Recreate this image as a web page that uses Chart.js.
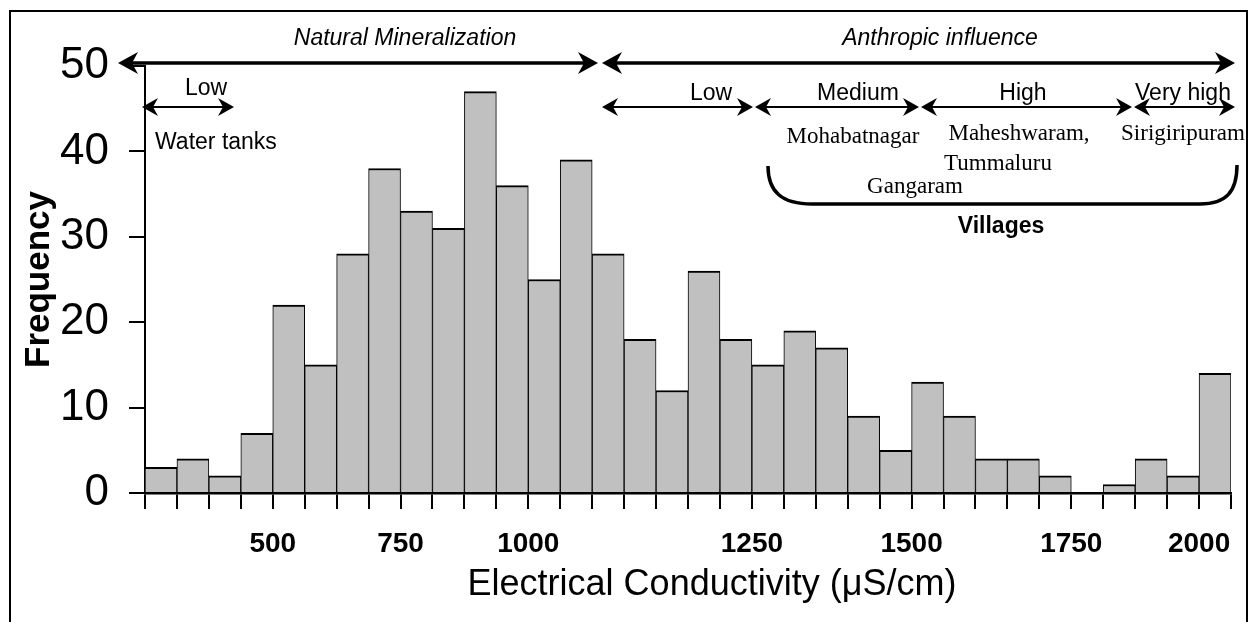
<!DOCTYPE html>
<html>
<head>
<meta charset="utf-8">
<script src="https://cdn.jsdelivr.net/npm/chart.js@4.4.1/dist/chart.umd.min.js"></script>
<style>
  html, body { margin: 0; padding: 0; background: #fff; }
  canvas { display: block; }
</style>
</head>
<body>
<canvas id="c" width="1249" height="622"></canvas>
<script>
// ---- data ----
const frequency = [3, 4, 2, 7, 22, 15, 28, 38, 33, 31, 47, 36, 25, 39, 28, 18, 12,
                   26, 18, 15, 19, 17, 9, 5, 13, 9, 4, 4, 2, 0, 1, 4, 2, 14];
// labels placed at bin edges (35 edges for 34 bins)
const edgeLabels = ['', '', '', '', '500', '', '', '', '750', '', '', '', '1000',
                    '', '', '', '', '', '', '1250', '', '', '', '', '1500',
                    '', '', '', '', '1750', '', '', '', '2000', ''];
const yTicks = [0, 10, 20, 30, 40, 50];
const xTitle = 'Electrical Conductivity (\u03bcS/cm)';
const yTitle = 'Frequency';

const SANS = '"Liberation Sans", Arial, sans-serif';
const SERIF = '"Liberation Serif", "Times New Roman", serif';

function arrowHead(ctx, tipX, y, dir, len, half, notch) {
  ctx.beginPath();
  ctx.moveTo(tipX, y);
  ctx.lineTo(tipX - dir * len, y - half);
  ctx.lineTo(tipX - dir * (len - notch), y);
  ctx.lineTo(tipX - dir * len, y + half);
  ctx.closePath();
  ctx.fill();
}
function doubleArrow(ctx, x1, x2, y, lw, len, half, notch) {
  ctx.lineWidth = lw;
  ctx.beginPath();
  ctx.moveTo(x1 + len - notch, y);
  ctx.lineTo(x2 - len + notch, y);
  ctx.stroke();
  arrowHead(ctx, x1, y, -1, len, half, notch);
  arrowHead(ctx, x2, y, 1, len, half, notch);
}
function txt(ctx, s, x, y, font, align) {
  ctx.font = font;
  ctx.textAlign = align || 'center';
  ctx.textBaseline = 'alphabetic';
  ctx.fillText(s, x, y);
}

const annotations = {
  id: 'annotations',
  afterDraw(chart) {
    const ctx = chart.ctx;
    ctx.save();
    ctx.strokeStyle = '#000';
    ctx.fillStyle = '#000';
    // outer frame
    ctx.lineWidth = 2;
    ctx.strokeRect(10, 11, 1237, 700);

    // x-axis title
    txt(ctx, xTitle, 712, 595, '36px ' + SANS);

    // top-level arrows
    doubleArrow(ctx, 118, 598, 63, 3.5, 20, 11, 6);
    doubleArrow(ctx, 602, 1235, 63, 3.5, 20, 11, 6);
    txt(ctx, 'Natural Mineralization', 405, 45, 'italic 23px ' + SANS);
    txt(ctx, 'Anthropic influence', 940, 45, 'italic 23px ' + SANS);

    // second-level arrows
    doubleArrow(ctx, 142, 234, 107, 2, 16, 9, 5);
    doubleArrow(ctx, 602, 753, 107, 2, 16, 9, 5);
    doubleArrow(ctx, 755, 919, 107, 2, 16, 9, 5);
    doubleArrow(ctx, 921, 1132, 107, 2, 16, 9, 5);
    doubleArrow(ctx, 1134, 1235, 107, 2, 16, 9, 5);

    const f23 = '23px ' + SANS;
    txt(ctx, 'Low', 206, 95, f23);
    txt(ctx, 'Water tanks', 155, 149, f23, 'left');
    txt(ctx, 'Low', 711, 100, f23);
    txt(ctx, 'Medium', 858, 100, f23);
    txt(ctx, 'High', 1023, 100, f23);
    txt(ctx, 'Very high', 1183, 100, f23);

    const fs = '23px ' + SERIF;
    txt(ctx, 'Mohabatnagar', 853, 143, fs);
    txt(ctx, 'Maheshwaram,', 1019, 140, fs);
    txt(ctx, 'Tummaluru', 998, 170, fs);
    txt(ctx, 'Gangaram', 915, 193, fs);
    txt(ctx, 'Sirigiripuram', 1183, 140, fs);

    // bracket
    ctx.lineWidth = 3.5;
    ctx.beginPath();
    ctx.moveTo(768, 166);
    ctx.bezierCurveTo(768, 192, 782, 204, 812, 204);
    ctx.lineTo(1200, 204);
    ctx.bezierCurveTo(1226, 204, 1237, 192, 1237, 165);
    ctx.stroke();
    txt(ctx, 'Villages', 1001, 233, 'bold 23px ' + SANS);

    ctx.restore();
  }
};

new Chart(document.getElementById('c'), {
  type: 'bar',
  data: {
    datasets: [{
      data: frequency.map((v, i) => ({ x: i + 0.5, y: v })),
      backgroundColor: '#c0c0c0',
      borderColor: '#000',
      borderWidth: { top: 2, left: 1, right: 1, bottom: 0 },
      borderSkipped: 'start',
      barPercentage: 1,
      categoryPercentage: 1
    }]
  },
  options: {
    responsive: false,
    animation: false,
    devicePixelRatio: 1,
    layout: { padding: { left: 0, right: 16, top: 66, bottom: 0 } },
    plugins: { legend: { display: false }, tooltip: { enabled: false } },
    scales: {
      x: {
        type: 'linear',
        min: 0,
        max: edgeLabels.length - 1,
        offset: false,
        afterBuildTicks: s => { s.ticks = edgeLabels.map((_, i) => ({ value: i })); },
        afterFit: s => { s.height = 129; },
        grid: { offset: false, drawOnChartArea: false, drawTicks: true, tickLength: 16, color: '#000', lineWidth: 2 },
        border: { display: true, color: '#000', width: 2.5 },
        ticks: {
          autoSkip: false, maxRotation: 0, minRotation: 0, padding: 18, color: '#000',
          font: { family: SANS, size: 28, weight: 'bold' },
          callback: v => edgeLabels[v] ?? ''
        },
        title: { display: false }
      },
      y: {
        min: 0,
        max: 50,
        afterBuildTicks: s => { s.ticks = yTicks.map(v => ({ value: v })); },
        afterFit: s => { s.width = 145; },
        grid: { drawOnChartArea: false, drawTicks: true, tickLength: 16, color: '#000', lineWidth: 2 },
        border: { display: true, color: '#000', width: 2 },
        ticks: { padding: 20, color: '#000', font: { family: SANS, size: 44 } },
        title: {
          display: true, text: yTitle, color: '#000',
          font: { family: SANS, size: 35, weight: 'bold' }, padding: { top: 18, bottom: 0 }
        }
      }
    }
  },
  plugins: [annotations]
});
</script>
</body>
</html>
